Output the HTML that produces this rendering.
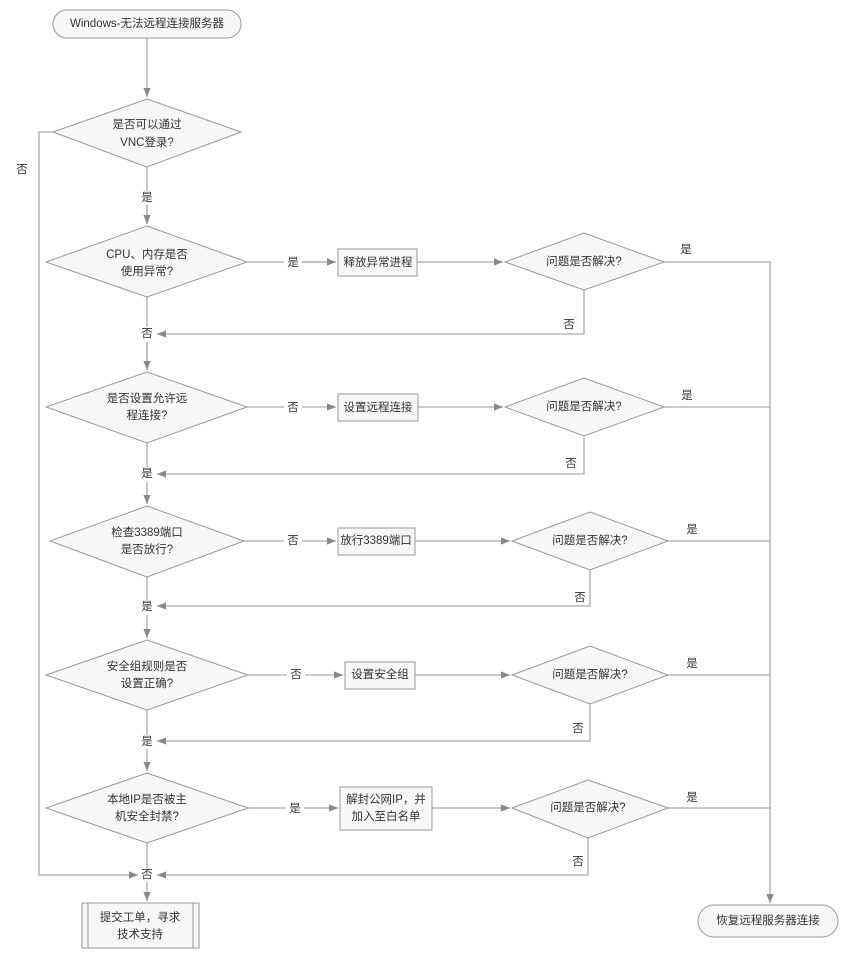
<!DOCTYPE html>
<html><head><meta charset="utf-8"><style>
html,body{margin:0;padding:0;background:#fff;}
svg text{font-family:"Liberation Sans","Noto Sans CJK SC",sans-serif;font-size:11.5px;fill:#333;text-anchor:middle;dominant-baseline:central;}
</style></head><body>
<svg width="850" height="960" viewBox="0 0 850 960" xmlns="http://www.w3.org/2000/svg">
<defs><marker id="a" viewBox="0 0 10 10" refX="10" refY="5" markerWidth="7" markerHeight="7" orient="auto"><path d="M0,1 L10,5 L0,9z" fill="#888"/></marker></defs>
<g fill="none" stroke="#aaa" stroke-width="1.3">
<path d="M147,38 V97" marker-end="url(#a)"/>
<path d="M53,132 H39 V875 H138" marker-end="url(#a)"/>
<path d="M147,167 V191 M147,205 V224" /><path d="M147,205 V224" marker-end="url(#a)"/>
<!-- row2 -->
<path d="M247,262 H284 M302,262 H336" /><path d="M302,262 H336" marker-end="url(#a)"/>
<path d="M417,262 H503" marker-end="url(#a)"/>
<path d="M664,262 H770 V903" marker-end="url(#a)"/>
<path d="M584,290 V334 H157" marker-end="url(#a)"/>
<path d="M147,297 V327 M147,342 V370"/><path d="M147,342 V370" marker-end="url(#a)"/>
<!-- row3 -->
<path d="M247,407 H284"/><path d="M302,407 H336" marker-end="url(#a)"/>
<path d="M418,407 H503" marker-end="url(#a)"/>
<path d="M664,407 H770"/>
<path d="M584,436 V474 H157" marker-end="url(#a)"/>
<path d="M147,443 V467"/><path d="M147,482 V504" marker-end="url(#a)"/>
<!-- row4 -->
<path d="M244,541 H284"/><path d="M302,541 H336" marker-end="url(#a)"/>
<path d="M415,541 H510" marker-end="url(#a)"/>
<path d="M668,541 H770"/>
<path d="M590,570 V606 H157" marker-end="url(#a)"/>
<path d="M147,577 V600"/><path d="M147,615 V638" marker-end="url(#a)"/>
<!-- row5 -->
<path d="M248,675 H287"/><path d="M305,675 H343" marker-end="url(#a)"/>
<path d="M415,675 H510" marker-end="url(#a)"/>
<path d="M668,675 H770"/>
<path d="M590,704 V741 H157" marker-end="url(#a)"/>
<path d="M147,710 V735"/><path d="M147,749 V771" marker-end="url(#a)"/>
<!-- row6 -->
<path d="M248,808 H286"/><path d="M304,808 H338" marker-end="url(#a)"/>
<path d="M432,808 H510" marker-end="url(#a)"/>
<path d="M668,808 H770"/>
<path d="M588,838 V875 H157" marker-end="url(#a)"/>
<path d="M147,843 V868"/><path d="M147,882 V901" marker-end="url(#a)"/>
</g>
<g fill="#f7f7f7" stroke="#999" stroke-width="1">
<rect x="53" y="10" width="188" height="28" rx="14"/>
<polygon points="147,99 241,132 147,167 53,132"/>
<polygon points="147,226 247,262 147,297 46,262"/>
<rect x="338" y="249" width="79" height="27"/>
<polygon points="584,233 664,262 584,290 505,262"/>
<polygon points="147,372 247,407 147,443 46,407"/>
<rect x="338" y="394" width="80" height="27"/>
<polygon points="584,378 664,407 584,436 505,407"/>
<polygon points="147,506 244,541 147,577 50,541"/>
<rect x="338" y="528" width="77" height="27"/>
<polygon points="590,512 668,541 590,570 512,541"/>
<polygon points="147,640 248,675 147,710 46,675"/>
<rect x="345" y="662" width="70" height="27"/>
<polygon points="590,646 668,675 590,704 512,675"/>
<polygon points="147,773 248,808 147,843 46,808"/>
<rect x="340" y="787" width="92" height="43"/>
<polygon points="588,780 668,808 588,838 512,808"/>
<rect x="82" y="903" width="117" height="45"/>
<rect x="698" y="905" width="140" height="32" rx="16"/>
</g>
<g stroke="#999"><line x1="88" y1="903" x2="88" y2="948"/><line x1="193" y1="903" x2="193" y2="948"/></g>
<text x="147" y="24">Windows-无法远程连接服务器</text>
<text x="147" y="125">是否可以通过</text><text x="147" y="143">VNC登录?</text>
<text x="22" y="170">否</text><text x="147" y="198">是</text>
<text x="147" y="255">CPU、内存是否</text><text x="147" y="272">使用异常?</text>
<text x="293" y="263">是</text><text x="378" y="263">释放异常进程</text>
<text x="584" y="262">问题是否解决?</text><text x="686" y="250">是</text>
<text x="569" y="325">否</text><text x="147" y="334">否</text>
<text x="147" y="399">是否设置允许远</text><text x="147" y="416">程连接?</text>
<text x="293" y="408">否</text><text x="378" y="408">设置远程连接</text>
<text x="584" y="407">问题是否解决?</text><text x="687" y="396">是</text>
<text x="571" y="464">否</text><text x="147" y="474">是</text>
<text x="147" y="533">检查3389端口</text><text x="147" y="550">是否放行?</text>
<text x="293" y="541">否</text><text x="376" y="541">放行3389端口</text>
<text x="590" y="541">问题是否解决?</text><text x="692" y="530">是</text>
<text x="580" y="598">否</text><text x="147" y="607">是</text>
<text x="147" y="667">安全组规则是否</text><text x="147" y="684">设置正确?</text>
<text x="296" y="675">否</text><text x="380" y="675">设置安全组</text>
<text x="590" y="675">问题是否解决?</text><text x="692" y="664">是</text>
<text x="578" y="729">否</text><text x="147" y="742">是</text>
<text x="147" y="800">本地IP是否被主</text><text x="147" y="817">机安全封禁?</text>
<text x="295" y="809">是</text><text x="386" y="800">解封公网IP，并</text><text x="386" y="817">加入至白名单</text>
<text x="588" y="808">问题是否解决?</text><text x="692" y="798">是</text>
<text x="578" y="862">否</text><text x="147" y="875">否</text>
<text x="140" y="918">提交工单，寻求</text><text x="140" y="935">技术支持</text>
<text x="768" y="921">恢复远程服务器连接</text>
</svg>
</body></html>
